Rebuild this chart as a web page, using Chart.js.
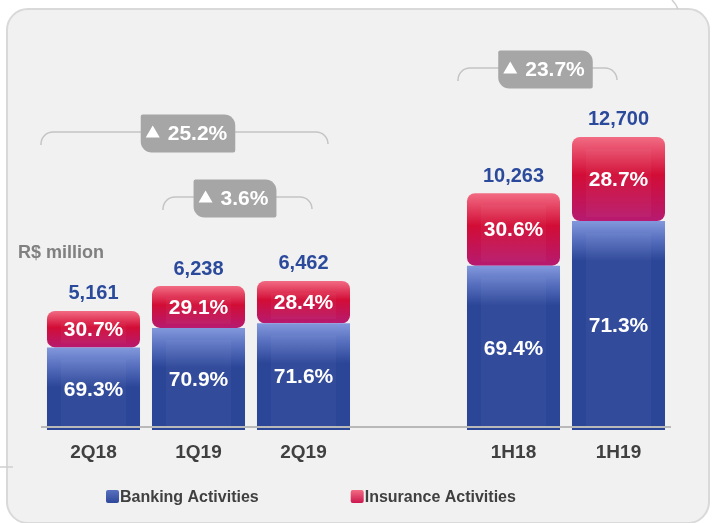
<!DOCTYPE html>
<html>
<head>
<meta charset="utf-8">
<script src="https://cdn.jsdelivr.net/npm/chart.js@4"></script>
<style>
    html, body { margin: 0; padding: 0; background: #ffffff; }
    #wrap { position: relative; width: 713px; height: 523px; overflow: hidden; }
    #panel {
        position: absolute; left: 6px; top: 8px; width: 700px; height: 512px;
        border: 2px solid #d9d9d9; border-radius: 22px; background: #f1f1f1;
    }
    #chart { position: absolute; left: 0; top: 0; }
</style>
</head>
<body>
<div id="wrap">
    <div id="panel"></div>
    <canvas id="chart" width="713" height="523"></canvas>
</div>
<script>
// data (empty slot = gap between quarters and halves)
const categories = ['2Q18', '1Q19', '2Q19', '', '1H18', '1H19'];
const totals = [5161, 6238, 6462, null, 10263, 12700];
const bankingShare = [69.3, 70.9, 71.6, null, 69.4, 71.3];
const insuranceShare = [30.7, 29.1, 28.4, null, 30.6, 28.7];
const seriesNames = ['Banking Activities', 'Insurance Activities'];
const growthFrom = ['2Q18', '1Q19', '1H18'];
const growthTo = ['2Q19', '2Q19', '1H19'];
const growthLabels = ['25.2%', '3.6%', '23.7%'];
const unitLabel = 'R$ million';

const banking = totals.map((t, i) => t === null ? null : t * bankingShare[i] / 100);
const insurance = totals.map((t, i) => t === null ? null : t * insuranceShare[i] / 100);

// brace placement (pixels relative to category centers)
const braceLayout = [
    { dxL: -52.5, dxR: 24.5, y: 132, badgeDx: 3.5 },
    { dxL: -35.5, dxR: 8.5, y: 197, badgeDx: -2.5 },
    { dxL: -55.5, dxR: -1.5, y: 68, badgeDx: 8 }
];

const FONT = '"Liberation Sans", Arial, sans-serif';

function blueFill(c) {
    const chart = c.chart;
    const i = c.dataIndex;
    if (!chart.chartArea || banking[i] === null || i === undefined) return '#2b4597';
    const top = chart.scales.y.getPixelForValue(banking[i]);
    if (!isFinite(top)) return '#2b4597';
    const g = chart.ctx.createLinearGradient(0, top, 0, top + 40);
    g.addColorStop(0, '#8398dc');
    g.addColorStop(0.45, '#5870bf');
    g.addColorStop(1, '#2b4597');
    return g;
}

function redFill(c) {
    const chart = c.chart;
    const i = c.dataIndex;
    if (!chart.chartArea || totals[i] === null || i === undefined) return '#d00c34';
    const y = chart.scales.y;
    const top = y.getPixelForValue(totals[i]);
    const bot = y.getPixelForValue(banking[i]);
    if (!isFinite(top) || !isFinite(bot)) return '#d00c34';
    const g = chart.ctx.createLinearGradient(0, top, 0, bot);
    g.addColorStop(0, '#f26c83');
    g.addColorStop(0.45, '#d20d36');
    g.addColorStop(1, '#b61a70');
    return g;
}

const decor = {
    id: 'decor',
    beforeDraw(chart) {
        const ctx = chart.ctx;
        ctx.save();
        ctx.strokeStyle = '#cfcfcf';
        ctx.lineWidth = 1.5;
        ctx.beginPath();
        ctx.moveTo(0, 467);
        ctx.lineTo(13, 467);
        ctx.stroke();
        ctx.beginPath();
        ctx.moveTo(672, 0);
        ctx.quadraticCurveTo(676, 4, 678, 9);
        ctx.stroke();
        ctx.restore();
    },
    afterDatasetsDraw(chart) {
        const ctx = chart.ctx;
        const area = chart.chartArea;
        const x = chart.scales.x;
        ctx.save();

        // soft inner glow on each segment
        chart.data.datasets.forEach((ds, d) => {
            chart.getDatasetMeta(d).data.forEach((el, i) => {
                if (ds.data[i] === null) return;
                const w = el.width;
                const h = el.base - el.y;
                ctx.fillStyle = 'rgba(255,255,255,0.035)';
                ctx.fillRect(el.x - w / 2 + 14, el.y + 12, w - 28, h - 16);
            });
        });

        // axis line
        ctx.strokeStyle = '#b9b9b9';
        ctx.lineWidth = 2;
        ctx.beginPath();
        ctx.moveTo(area.left, area.bottom - 3);
        ctx.lineTo(area.right, area.bottom - 3);
        ctx.stroke();

        // percentage labels inside segments
        ctx.textAlign = 'center';
        ctx.textBaseline = 'middle';
        ctx.font = 'bold 21px ' + FONT;
        ctx.fillStyle = '#ffffff';
        const shares = [bankingShare, insuranceShare];
        chart.data.datasets.forEach((ds, d) => {
            chart.getDatasetMeta(d).data.forEach((el, i) => {
                if (ds.data[i] === null) return;
                ctx.fillText(shares[d][i].toFixed(1) + '%', el.x, (el.y + el.base) / 2 + 1);
            });
        });

        // totals above bars
        ctx.font = 'bold 20px ' + FONT;
        ctx.fillStyle = '#2b4a9b';
        chart.getDatasetMeta(1).data.forEach((el, i) => {
            if (totals[i] === null) return;
            ctx.fillText(totals[i].toLocaleString('en-US'), el.x, el.y - 17);
        });

        // unit label
        ctx.textAlign = 'left';
        ctx.font = 'bold 18px ' + FONT;
        ctx.fillStyle = '#808080';
        ctx.fillText(unitLabel, 18, 253);

        // growth braces and badges
        growthLabels.forEach((label, k) => {
            const lay = braceLayout[k];
            const x1 = x.getPixelForValue(categories.indexOf(growthFrom[k])) + lay.dxL;
            const x2 = x.getPixelForValue(categories.indexOf(growthTo[k])) + lay.dxR;
            const y = lay.y;
            ctx.strokeStyle = '#c4c4c4';
            ctx.lineWidth = 1.5;
            ctx.beginPath();
            ctx.moveTo(x1, y + 13);
            ctx.arcTo(x1, y, x1 + 12, y, 12);
            ctx.lineTo(x2 - 12, y);
            ctx.arcTo(x2, y, x2, y + 13, 12);
            ctx.stroke();

            ctx.font = 'bold 21px ' + FONT;
            const tw = ctx.measureText(label).width;
            const bw = tw + 35;
            const bh = 38;
            const cx = (x1 + x2) / 2 + lay.badgeDx;
            const cy = y + 1.5;
            const bx = cx - bw / 2;
            const by = cy - bh / 2;
            ctx.fillStyle = '#a6a6a6';
            ctx.beginPath();
            ctx.roundRect(bx, by, bw, bh, [2, 11, 2, 11]);
            ctx.fill();

            ctx.fillStyle = '#ffffff';
            ctx.beginPath();
            ctx.moveTo(bx + 5, cy + 4);
            ctx.lineTo(bx + 19, cy + 4);
            ctx.lineTo(bx + 12, cy - 8);
            ctx.closePath();
            ctx.fill();
            ctx.textAlign = 'left';
            ctx.fillText(label, bx + 27, cy + 1);
        });

        // legend
        ctx.font = 'bold 16px ' + FONT;
        const legendFills = [['#5870bf', '#2b4597'], ['#f26c83', '#c8114a']];
        let lx = 106;
        const ly = 497;
        seriesNames.forEach((name, k) => {
            const g = ctx.createLinearGradient(0, ly - 7, 0, ly + 7);
            g.addColorStop(0, legendFills[k][0]);
            g.addColorStop(1, legendFills[k][1]);
            ctx.fillStyle = g;
            ctx.beginPath();
            ctx.roundRect(lx, ly - 7, 13, 13, 2);
            ctx.fill();
            ctx.fillStyle = '#404040';
            ctx.fillText(name, lx + 14, ly + 1);
            lx += 14 + ctx.measureText(name).width + 92;
        });
        ctx.restore();
    }
};

new Chart(document.getElementById('chart'), {
    type: 'bar',
    data: {
        labels: categories,
        datasets: [
            {
                label: seriesNames[0],
                data: banking,
                backgroundColor: blueFill,
                borderWidth: 0,
                barPercentage: 0.886,
                categoryPercentage: 1
            },
            {
                label: seriesNames[1],
                data: insurance,
                backgroundColor: redFill,
                borderWidth: 0,
                borderRadius: 8,
                borderSkipped: false,
                barPercentage: 0.886,
                categoryPercentage: 1
            }
        ]
    },
    options: {
        responsive: false,
        animation: false,
        layout: { padding: { left: 41, right: 42, top: 130, bottom: 53 } },
        scales: {
            x: {
                stacked: true,
                grid: { display: false, drawTicks: false },
                border: { display: false },
                ticks: { color: '#404040', font: { family: FONT, size: 19, weight: 'bold' }, padding: 11 },
                afterFit: s => { s.height = 40; }
            },
            y: { stacked: true, display: false, min: 0, max: 13000 }
        },
        plugins: { legend: { display: false }, tooltip: { enabled: false } }
    },
    plugins: [decor]
});
</script>
</body>
</html>
